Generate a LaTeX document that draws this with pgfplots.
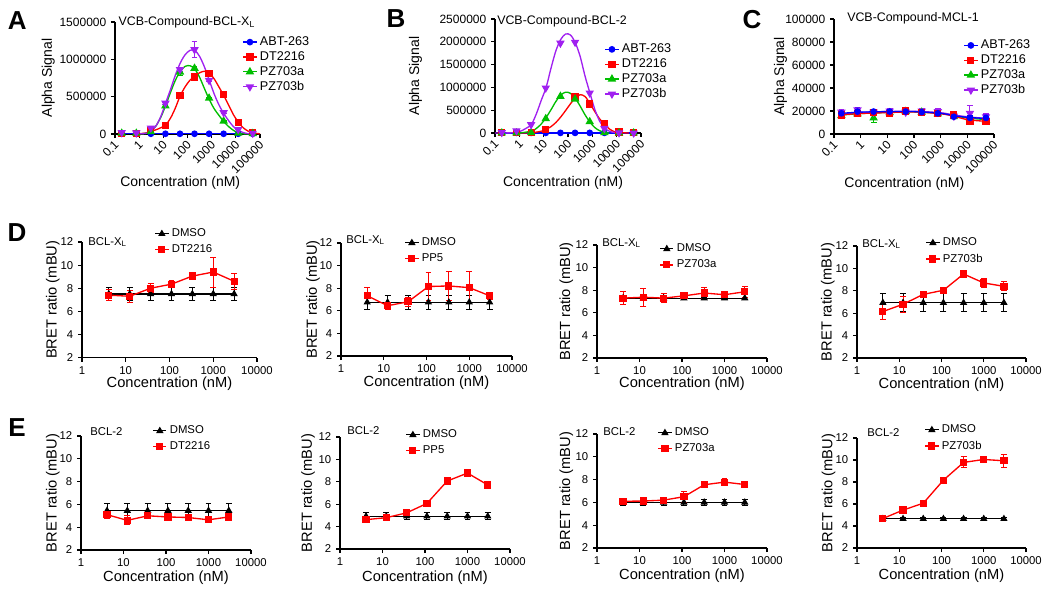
\documentclass[border=0pt]{standalone}
\usepackage{fontspec}
\setmainfont{Liberation Sans}
\usepackage{pgfplots}
\pgfplotsset{compat=1.18}
\definecolor{cblue}{RGB}{0,0,255}
\definecolor{cred}{RGB}{255,0,0}
\definecolor{cgreen}{RGB}{0,190,0}
\definecolor{cpurple}{RGB}{160,32,240}
\pgfplotsset{
  every axis/.append style={
    scale only axis,
    anchor=south west,
    axis lines*=left,
    axis line style={line width=0.9pt},
    tick align=outside,
    major tick length=3pt,
    major tick style={line width=0.9pt, black},
    xminorticks=false, yminorticks=false,
    scaled y ticks=false, scaled x ticks=false,
    clip=false,
    legend cell align=left,
    xlabel style={anchor=center},
    ylabel style={anchor=center},
  },
  error bars/error bar style={line width=0.7pt},
  error bars/error mark options={rotate=90, mark size=2.2pt, line width=0.7pt},
}
\tikzset{
  sABT/.style={cblue, mark=*, mark size=2pt, line width=1pt},
  sDT/.style={cred, mark=square*, mark size=2.2pt, line width=1pt},
  sPZa/.style={cgreen, mark=triangle*, mark size=2.7pt, line width=1pt},
  sPZb/.style={cpurple, mark=triangle*, mark options={rotate=180}, mark size=2.7pt, line width=1pt},
  dmso/.style={black, mark=triangle*, mark size=2.4pt, line width=0.8pt},
  trt/.style={cred, mark=square*, mark size=2.2pt, line width=1pt},
  lab/.style={anchor=west, inner sep=0pt, font=\fontsize{8.5}{10}\selectfont},
  ttl/.style={anchor=west, inner sep=0pt, font=\fontsize{9.3}{11}\selectfont},
  toplegend/.style={draw=none, fill=none, font=\fontsize{9.5}{11}\selectfont, anchor=north west,
      row sep=-1pt, inner xsep=0pt, inner ysep=0pt},
  lowlegend/.style={draw=none, fill=none, font=\fontsize{8.5}{10}\selectfont, anchor=north west,
      row sep=0.5pt, inner xsep=0pt, inner ysep=0pt},
  toptick/.style={font=\fontsize{9}{10}\selectfont},
  lowtick/.style={font=\fontsize{8.5}{10}\selectfont},
  toplab/.style={font=\fontsize{10.5}{12}\selectfont},
  lowlab/.style={font=\fontsize{11}{13}\selectfont},
}
\begin{document}
\begin{tikzpicture}
\useasboundingbox (0,0) rectangle (787.5pt,-445.5pt);
\begin{scope}[every node/.style={font=\fontsize{19.5}{20}\selectfont\bfseries, inner sep=0pt}]
\node at (13pt,-15.75pt) {A};
\node at (297pt,-14.25pt) {B};
\node at (564pt,-15pt) {C};
\node at (12.75pt,-174.75pt) {D};
\node at (12.75pt,-321pt) {E};
\end{scope}

%%%%%%%%%%%%%%%% A
\begin{axis}[at={(86.25pt,-100.5pt)}, width=108.75pt, height=84pt,
  xmode=log, xmin=0.1, xmax=100000,
  xtick={0.1,1,10,100,1000,10000,100000},
  xticklabels={0.1,1,10,100,1000,10000,100000},
  xticklabel style={toptick, xshift=2pt, yshift=-3pt, rotate=45, anchor=east, inner sep=1pt},
  ymin=0, ymax=1500000, ytick={0,500000,1000000,1500000},
  yticklabels={0,500000,1000000,1500000},
  yticklabel style={toptick},
  ylabel={Alpha Signal}, xlabel={Concentration (nM)},
  label style={toplab},
  legend image code/.code={\draw[mark repeat=2,mark phase=2,#1] plot coordinates {(0pt,0pt) (5pt,0pt) (10pt,0pt)};},
  legend style={toplegend, at={(axis description cs:0.878,0.895)}},
  ylabel style={at={(axis description cs:-0.46,0.5)}},
  xlabel style={at={(axis description cs:0.45,-0.44)}}]
\addlegendimage{sABT}\addlegendentry{ABT-263}
\addlegendimage{sDT}\addlegendentry{DT2216}
\addlegendimage{sPZa}\addlegendentry{PZ703a}
\addlegendimage{sPZb}\addlegendentry{PZ703b}
\addplot[cblue, no marks, line width=1pt, forget plot] table {
0.19 3000
50000 3000
};
\addplot[cred, smooth, no marks, line width=1pt, forget plot] table {
1 3000
2 15000
3.16 35000
6.3 70000
12.3 120000
20 215000
31.6 350000
49 505000
79 630000
126 720000
195 770000
316 820000
500 840000
776 820000
1260 740000
2000 630000
3100 520000
5000 390000
7900 260000
12600 160000
20000 85000
31600 40000
50000 15000
100000 3000
};
\addplot[cgreen, smooth, no marks, line width=1pt, forget plot] table {
1 2000
2 10000
3.16 40000
5 110000
8 230000
12.3 377000
20 560000
31.6 720000
50 840000
79 905000
126 915000
200 870000
316 760000
500 610000
776 470000
1260 340000
2000 250000
3100 170000
5000 100000
7900 50000
12600 15000
20000 3000
50000 0
};
\addplot[cpurple, smooth, no marks, line width=1pt, forget plot] table {
1 2000
2 10000
3.16 40000
5 110000
8 240000
12.3 410000
20 600000
31.6 790000
50 950000
79 1060000
126 1120000
200 1120000
316 1040000
500 900000
776 730000
1260 540000
2000 390000
3100 280000
5000 180000
7900 100000
12600 50000
20000 20000
31600 5000
50000 0
};
\addplot[sABT, only marks, forget plot] table {
0.19 3000
0.76 3000
3.05 3000
12.2 3000
48.8 3000
195 3000
781 3000
3125 3000
12500 3000
50000 3000
};
\addplot[sDT, only marks, forget plot, error bars/.cd, y dir=both, y explicit] table[x index=0, y index=1, y error index=2] {
0.19 10000 0
0.76 10000 0
3.05 50000 0
12.2 113000 10000
48.8 513000 20000
195 763000 20000
781 809000 15000
3125 527000 30000
12500 150000 10000
50000 20000 0
};
\addplot[sPZa, only marks, forget plot, error bars/.cd, y dir=both, y explicit] table[x index=0, y index=1, y error index=2] {
0.19 10000 0
0.76 10000 0
3.05 30000 0
12.2 377000 15000
48.8 830000 40000
195 880000 30000
781 480000 10000
3125 173000 10000
12500 10000 0
50000 5000 0
};
\addplot[sPZb, only marks, forget plot, error bars/.cd, y dir=both, y explicit] table[x index=0, y index=1, y error index=2] {
0.19 20000 0
0.76 15000 0
3.05 80000 0
12.2 413000 15000
48.8 863000 20000
195 1130000 110000
781 718000 20000
3125 286000 15000
12500 60000 0
50000 10000 0
};
\node[ttl, xshift=2.5pt] at (rel axis cs:0,1) {VCB-Compound-BCL-X\textsubscript{L}};
\end{axis}

%%%%%%%%%%%%%%%% B
\begin{axis}[at={(371.25pt,-99.75pt)}, width=109.5pt, height=85.5pt,
  xmode=log, xmin=0.1, xmax=100000,
  xtick={0.1,1,10,100,1000,10000,100000},
  xticklabels={0.1,1,10,100,1000,10000,100000},
  xticklabel style={toptick, xshift=2pt, yshift=-3pt, rotate=45, anchor=east, inner sep=1pt},
  ymin=0, ymax=2500000, ytick={0,500000,1000000,1500000,2000000,2500000},
  yticklabels={0,500000,1000000,1500000,2000000,2500000},
  yticklabel style={toptick},
  ylabel={Alpha Signal}, xlabel={Concentration (nM)},
  label style={toplab},
  legend image code/.code={\draw[mark repeat=2,mark phase=2,#1] plot coordinates {(0pt,0pt) (5pt,0pt) (10pt,0pt)};},
  legend style={toplegend, at={(axis description cs:0.749,0.807)}},
  ylabel style={at={(axis description cs:-0.545,0.5)}},
  xlabel style={at={(axis description cs:0.466,-0.44)}}]
\addlegendimage{sABT}\addlegendentry{ABT-263}
\addlegendimage{sDT}\addlegendentry{DT2216}
\addlegendimage{sPZa}\addlegendentry{PZ703a}
\addlegendimage{sPZb}\addlegendentry{PZ703b}
\addplot[cblue, no marks, line width=1pt, forget plot] table {
0.19 3000
50000 3000
};
\addplot[cred, smooth, no marks, line width=1pt, forget plot] table {
1 0
3.16 5000
8 40000
12.6 80000
20 140000
31.6 230000
50 350000
79 490000
126 640000
200 770000
316 840000
500 800000
794 650000
1260 470000
2000 310000
3160 190000
5000 90000
7940 30000
12600 10000
31600 0
};
\addplot[cgreen, smooth, no marks, line width=1pt, forget plot] table {
1 0
3.16 40000
5 100000
8 200000
12.6 340000
20 510000
31.6 690000
50 830000
79 895000
126 870000
200 760000
316 590000
500 400000
794 240000
1260 120000
2000 50000
3160 15000
5000 0
};
\addplot[cpurple, smooth, no marks, line width=1pt, forget plot] table {
0.1 0
0.5 5000
1 30000
2 110000
3.16 190000
5 420000
8 720000
12.6 1000000
20 1420000
31.6 1800000
50 2050000
79 2170000
126 2150000
200 1980000
316 1680000
500 1250000
794 880000
1260 520000
2000 260000
3160 110000
5000 40000
7940 10000
15800 0
};
\addplot[sABT, only marks, forget plot] table {
0.19 3000
0.76 3000
3.05 3000
12.2 3000
48.8 3000
195 3000
781 3000
3125 3000
12500 3000
50000 3000
};
\addplot[sDT, only marks, forget plot] table {
0.19 5000
0.76 5000
3.05 5000
12.2 73000
195 790000
781 636000
3125 197000
12500 20000
50000 5000
};
\addplot[sPZa, only marks, forget plot] table {
0.19 0
0.76 0
3.05 5000
12.2 314000
48.8 804000
195 745000
781 248000
3125 10000
12500 0
50000 0
};
\addplot[sPZb, only marks, forget plot] table {
0.19 10000
0.76 50000
3.05 183000
12.2 987000
48.8 1970000
195 1990000
781 877000
3125 100000
12500 5000
50000 0
};
\node[ttl, xshift=1.5pt, yshift=-1.5pt] at (rel axis cs:0,1) {VCB-Compound-BCL-2};
\end{axis}

%%%%%%%%%%%%%%%% C
\begin{axis}[at={(625.5pt,-100.5pt)}, width=120pt, height=86.25pt,
  xmode=log, xmin=0.1, xmax=100000,
  xtick={0.1,1,10,100,1000,10000,100000},
  xticklabels={0.1,1,10,100,1000,10000,100000},
  xticklabel style={toptick, xshift=2pt, yshift=-3pt, rotate=45, anchor=east, inner sep=1pt},
  ymin=0, ymax=100000, ytick={0,20000,40000,60000,80000,100000},
  yticklabels={0,20000,40000,60000,80000,100000},
  yticklabel style={toptick},
  ylabel={Alpha Signal}, xlabel={Concentration (nM)},
  label style={toplab},
  legend image code/.code={\draw[mark repeat=2,mark phase=2,#1] plot coordinates {(0pt,0pt) (5pt,0pt) (10pt,0pt)};},
  legend style={toplegend, at={(axis description cs:0.808,0.843)}},
  ylabel style={at={(axis description cs:-0.335,0.5)}},
  xlabel style={at={(axis description cs:0.44,-0.43)}}]
\addlegendimage{sABT}\addlegendentry{ABT-263}
\addlegendimage{sDT}\addlegendentry{DT2216}
\addlegendimage{sPZa}\addlegendentry{PZ703a}
\addlegendimage{sPZb}\addlegendentry{PZ703b}
\addplot[cgreen, smooth, no marks, line width=1pt, forget plot] table {
0.19 16500
1 17800
10 18800
100 19300
1000 18000
3125 16000
10000 14000
50000 12500
};
\addplot[cpurple, smooth, no marks, line width=1pt, forget plot] table {
0.19 17500
1 18800
10 19500
100 19800
1000 18500
3125 16500
10000 15000
50000 13500
};
\addplot[cred, smooth, no marks, line width=1pt, forget plot] table {
0.19 16800
1 17800
10 18600
100 19200
1000 17600
3125 15500
10000 12500
50000 11000
};
\addplot[cblue, smooth, no marks, line width=1pt, forget plot] table {
0.19 18000
1 19000
10 19500
100 19500
1000 18000
3125 16000
10000 14500
50000 13500
};
\addplot[sPZa, only marks, forget plot, error bars/.cd, y dir=both, y explicit] table[x index=0, y index=1, y error index=2] {
0.19 16000 1000
0.76 17500 1000
3.05 14000 4000
12.2 18500 1000
48.8 19500 1000
195 19000 1000
781 17500 1000
3125 15000 1000
12500 13500 2000
50000 12000 2000
};
\addplot[sPZb, only marks, forget plot, error bars/.cd, y dir=both, y explicit] table[x index=0, y index=1, y error index=2] {
0.19 19000 2000
0.76 21000 2000
3.05 19000 2000
12.2 20000 2000
48.8 19000 1500
195 20000 2500
781 19500 2500
3125 15500 1500
12500 18000 7000
50000 15000 2500
};
\addplot[sDT, only marks, forget plot, error bars/.cd, y dir=both, y explicit] table[x index=0, y index=1, y error index=2] {
0.19 16500 1000
0.76 17500 1000
3.05 18500 1000
12.2 18000 1500
48.8 20000 1000
195 18500 1500
781 17500 1500
3125 16500 1000
12500 11000 1500
50000 11000 1500
};
\addplot[sABT, only marks, forget plot, error bars/.cd, y dir=both, y explicit] table[x index=0, y index=1, y error index=2] {
0.19 18000 1500
0.76 19500 3500
3.05 19500 1500
12.2 19500 1500
48.8 19500 1000
195 19000 2000
781 18000 2000
3125 15000 1000
12500 14000 2000
50000 14000 3000
};
\node[ttl, xshift=9.75pt, yshift=0.75pt] at (rel axis cs:0,1) {VCB-Compound-MCL-1};
\end{axis}

%%%%%%%%%%%%%%%% D1
\begin{axis}[at={(61.5pt,-268.125pt)}, width=131.25pt, height=86.625pt,
  xmode=log, xmin=1, xmax=10000, xtick={1,10,100,1000,10000}, xticklabels={1,10,100,1000,10000},
  ymin=2, ymax=12, ytick={2,4,6,8,10,12}, yticklabels={2,4,6,8,10,12},
  ticklabel style={lowtick}, ylabel={BRET ratio (mBU)}, xlabel={Concentration (nM)}, label style={lowlab},
  legend image code/.code={\draw[mark repeat=2,mark phase=2,#1] plot coordinates {(0pt,0pt) (5pt,0pt) (10pt,0pt)};},
  legend style={lowlegend, at={(axis description cs:0.413,1.139)}},
  ylabel style={at={(axis description cs:-0.166,0.5)}},
  xlabel style={at={(axis description cs:0.5,-0.229)}}]
\addlegendimage{dmso}\addlegendentry{DMSO}
\addlegendimage{trt}\addlegendentry{DT2216}
\addplot[dmso, forget plot, error bars/.cd, y dir=both, y explicit] table[x index=0, y index=1, y error index=2] {
4.1 7.5 0.6
12.3 7.5 0.6
37 7.5 0.6
111 7.5 0.6
333 7.5 0.6
1000 7.5 0.6
3000 7.5 0.6
};
\addplot[trt, forget plot, error bars/.cd, y dir=both, y explicit] table[x index=0, y index=1, y error index=2] {
4.1 7.4 0.5
12.3 7.3 0.5
37 8.0 0.4
111 8.35 0.3
333 9.05 0.2
1000 9.4 1.3
3000 8.6 0.7
};
\node[lab, xshift=4.5pt] at (rel axis cs:0,1) {BCL-X\textsubscript{L}};
\end{axis}

%%%%%%%%%%%%%%%% D2
\begin{axis}[at={(255.75pt,-267pt)}, width=128.25pt, height=84.75pt,
  xmode=log, xmin=1, xmax=10000, xtick={1,10,100,1000,10000}, xticklabels={1,10,100,1000,10000},
  ymin=2, ymax=12, ytick={2,4,6,8,10,12}, yticklabels={2,4,6,8,10,12},
  ticklabel style={lowtick}, ylabel={BRET ratio (mBU)}, xlabel={Concentration (nM)}, label style={lowlab},
  legend image code/.code={\draw[mark repeat=2,mark phase=2,#1] plot coordinates {(0pt,0pt) (5pt,0pt) (10pt,0pt)};},
  legend style={lowlegend, at={(axis description cs:0.370,1.071)}},
  ylabel style={at={(axis description cs:-0.164,0.5)}},
  xlabel style={at={(axis description cs:0.5,-0.24)}}]
\addlegendimage{dmso}\addlegendentry{DMSO}
\addlegendimage{trt}\addlegendentry{PP5}
\addplot[dmso, forget plot, error bars/.cd, y dir=both, y explicit] table[x index=0, y index=1, y error index=2] {
4.1 6.75 0.6
12.3 6.75 0.6
37 6.75 0.6
111 6.75 0.6
333 6.75 0.6
1000 6.75 0.6
3000 6.75 0.6
};
\addplot[trt, forget plot, error bars/.cd, y dir=both, y explicit] table[x index=0, y index=1, y error index=2] {
4.1 7.33 0.7
12.3 6.45 0.3
37 6.8 0.4
111 8.15 1.2
333 8.2 1.3
1000 8.05 1.4
3000 7.33 0.3
};
\node[lab, xshift=3.75pt, yshift=2.25pt] at (rel axis cs:0,1) {BCL-X\textsubscript{L}};
\end{axis}

%%%%%%%%%%%%%%%% D3
\begin{axis}[at={(447.75pt,-268.5pt)}, width=127.5pt, height=84.75pt,
  xmode=log, xmin=1, xmax=10000, xtick={1,10,100,1000,10000}, xticklabels={1,10,100,1000,10000},
  ymin=2, ymax=12, ytick={2,4,6,8,10,12}, yticklabels={2,4,6,8,10,12},
  ticklabel style={lowtick}, ylabel={BRET ratio (mBU)}, xlabel={Concentration (nM)}, label style={lowlab},
  legend image code/.code={\draw[mark repeat=2,mark phase=2,#1] plot coordinates {(0pt,0pt) (5pt,0pt) (10pt,0pt)};},
  legend style={lowlegend, at={(axis description cs:0.366,1.035)}},
  ylabel style={at={(axis description cs:-0.18,0.5)}},
  xlabel style={at={(axis description cs:0.5,-0.23)}}]
\addlegendimage{dmso}\addlegendentry{DMSO}
\addlegendimage{trt}\addlegendentry{PZ703a}
\addplot[dmso, forget plot, error bars/.cd, y dir=both, y explicit] table[x index=0, y index=1, y error index=2] {
4.1 7.3 0.1
12.3 7.3 0.1
37 7.3 0.1
111 7.3 0.1
333 7.3 0.1
1000 7.3 0.1
3000 7.3 0.1
};
\addplot[trt, forget plot, error bars/.cd, y dir=both, y explicit] table[x index=0, y index=1, y error index=2] {
4.1 7.3 0.6
12.3 7.38 0.8
37 7.3 0.4
111 7.5 0.2
333 7.75 0.5
1000 7.6 0.2
3000 7.86 0.5
};
\node[lab, xshift=3.75pt, yshift=1.5pt] at (rel axis cs:0,1) {BCL-X\textsubscript{L}};
\end{axis}

%%%%%%%%%%%%%%%% D4
\begin{axis}[at={(642.75pt,-268.5pt)}, width=126.75pt, height=84pt,
  xmode=log, xmin=1, xmax=10000, xtick={1,10,100,1000,10000}, xticklabels={1,10,100,1000,10000},
  ymin=2, ymax=12, ytick={2,4,6,8,10,12}, yticklabels={2,4,6,8,10,12},
  ticklabel style={lowtick}, ylabel={BRET ratio (mBU)}, xlabel={Concentration (nM)}, label style={lowlab},
  legend image code/.code={\draw[mark repeat=2,mark phase=2,#1] plot coordinates {(0pt,0pt) (5pt,0pt) (10pt,0pt)};},
  legend style={lowlegend, at={(axis description cs:0.404,1.098)}},
  ylabel style={at={(axis description cs:-0.172,0.5)}},
  xlabel style={at={(axis description cs:0.5,-0.235)}}]
\addlegendimage{dmso}\addlegendentry{DMSO}
\addlegendimage{trt}\addlegendentry{PZ703b}
\addplot[dmso, forget plot, error bars/.cd, y dir=both, y explicit] table[x index=0, y index=1, y error index=2] {
4.1 6.93 0.8
12.3 6.93 0.8
37 6.93 0.8
111 6.93 0.8
333 6.93 0.8
1000 6.93 0.8
3000 6.93 0.8
};
\addplot[trt, forget plot, error bars/.cd, y dir=both, y explicit] table[x index=0, y index=1, y error index=2] {
4.1 6.15 0.7
12.3 6.8 0.7
37 7.68 0.3
111 8.05 0.2
333 9.5 0.15
1000 8.7 0.4
3000 8.4 0.4
};
\node[lab, xshift=3.75pt, yshift=1.5pt] at (rel axis cs:0,1) {BCL-X\textsubscript{L}};
\end{axis}

%%%%%%%%%%%%%%%% E1
\begin{axis}[at={(60.75pt,-412.5pt)}, width=127.5pt, height=85.5pt,
  xmode=log, xmin=1, xmax=10000, xtick={1,10,100,1000,10000}, xticklabels={1,10,100,1000,10000},
  ymin=2, ymax=12, ytick={2,4,6,8,10,12}, yticklabels={2,4,6,8,10,12},
  ticklabel style={lowtick}, ylabel={BRET ratio (mBU)}, xlabel={Concentration (nM)}, label style={lowlab},
  legend image code/.code={\draw[mark repeat=2,mark phase=2,#1] plot coordinates {(0pt,0pt) (5pt,0pt) (10pt,0pt)};},
  legend style={lowlegend, at={(axis description cs:0.419,1.114)}},
  ylabel style={at={(axis description cs:-0.165,0.5)}},
  xlabel style={at={(axis description cs:0.5,-0.246)}}]
\addlegendimage{dmso}\addlegendentry{DMSO}
\addlegendimage{trt}\addlegendentry{DT2216}
\addplot[dmso, forget plot, error bars/.cd, y dir=both, y explicit] table[x index=0, y index=1, y error index=2] {
4.1 5.45 0.6
12.3 5.45 0.6
37 5.45 0.6
111 5.45 0.6
333 5.45 0.6
1000 5.45 0.6
3000 5.45 0.6
};
\addplot[trt, forget plot, error bars/.cd, y dir=both, y explicit] table[x index=0, y index=1, y error index=2] {
4.1 5.1 0.3
12.3 4.6 0.4
37 5.0 0.2
111 4.9 0.3
333 4.85 0.3
1000 4.65 0.2
3000 4.9 0.2
};
\node[lab, xshift=6.75pt, yshift=3pt] at (rel axis cs:0,1) {BCL-2};
\end{axis}

%%%%%%%%%%%%%%%% E2
\begin{axis}[at={(255pt,-411.75pt)}, width=127.5pt, height=84pt,
  xmode=log, xmin=1, xmax=10000, xtick={1,10,100,1000,10000}, xticklabels={1,10,100,1000,10000},
  ymin=2, ymax=12, ytick={2,4,6,8,10,12}, yticklabels={2,4,6,8,10,12},
  ticklabel style={lowtick}, ylabel={BRET ratio (mBU)}, xlabel={Concentration (nM)}, label style={lowlab},
  legend image code/.code={\draw[mark repeat=2,mark phase=2,#1] plot coordinates {(0pt,0pt) (5pt,0pt) (10pt,0pt)};},
  legend style={lowlegend, at={(axis description cs:0.384,1.089)}},
  ylabel style={at={(axis description cs:-0.188,0.5)}},
  xlabel style={at={(axis description cs:0.5,-0.26)}}]
\addlegendimage{dmso}\addlegendentry{DMSO}
\addlegendimage{trt}\addlegendentry{PP5}
\addplot[dmso, forget plot, error bars/.cd, y dir=both, y explicit] table[x index=0, y index=1, y error index=2] {
4.1 4.92 0.3
12.3 4.92 0.3
37 4.92 0.3
111 4.92 0.3
333 4.92 0.3
1000 4.92 0.3
3000 4.92 0.3
};
\addplot[trt, forget plot, error bars/.cd, y dir=both, y explicit] table[x index=0, y index=1, y error index=2] {
4.1 4.62 0.15
12.3 4.8 0.1
37 5.23 0.15
111 6.07 0.1
333 8.07 0.2
1000 8.78 0.2
3000 7.72 0.15
};
\node[lab, xshift=5.25pt, yshift=4.5pt] at (rel axis cs:0,1) {BCL-2};
\end{axis}

%%%%%%%%%%%%%%%% E3
\begin{axis}[at={(447.75pt,-411pt)}, width=127.5pt, height=85.5pt,
  xmode=log, xmin=1, xmax=10000, xtick={1,10,100,1000,10000}, xticklabels={1,10,100,1000,10000},
  ymin=2, ymax=12, ytick={2,4,6,8,10,12}, yticklabels={2,4,6,8,10,12},
  ticklabel style={lowtick}, ylabel={BRET ratio (mBU)}, xlabel={Concentration (nM)}, label style={lowlab},
  legend image code/.code={\draw[mark repeat=2,mark phase=2,#1] plot coordinates {(0pt,0pt) (5pt,0pt) (10pt,0pt)};},
  legend style={lowlegend, at={(axis description cs:0.355,1.079)}},
  ylabel style={at={(axis description cs:-0.18,0.5)}},
  xlabel style={at={(axis description cs:0.5,-0.246)}}]
\addlegendimage{dmso}\addlegendentry{DMSO}
\addlegendimage{trt}\addlegendentry{PZ703a}
\addplot[dmso, forget plot, error bars/.cd, y dir=both, y explicit] table[x index=0, y index=1, y error index=2] {
4.1 6.0 0.3
12.3 6.0 0.3
37 6.0 0.3
111 6.0 0.3
333 6.0 0.3
1000 6.0 0.3
3000 6.0 0.3
};
\addplot[trt, forget plot, error bars/.cd, y dir=both, y explicit] table[x index=0, y index=1, y error index=2] {
4.1 6.1 0.2
12.3 6.12 0.2
37 6.2 0.2
111 6.5 0.5
333 7.55 0.15
1000 7.78 0.3
3000 7.57 0.1
};
\node[lab, xshift=4.5pt, yshift=1.5pt] at (rel axis cs:0,1) {BCL-2};
\end{axis}

%%%%%%%%%%%%%%%% E4
\begin{axis}[at={(642.75pt,-411pt)}, width=126.75pt, height=82.5pt,
  xmode=log, xmin=1, xmax=10000, xtick={1,10,100,1000,10000}, xticklabels={1,10,100,1000,10000},
  ymin=2, ymax=12, ytick={2,4,6,8,10,12}, yticklabels={2,4,6,8,10,12},
  ticklabel style={lowtick}, ylabel={BRET ratio (mBU)}, xlabel={Concentration (nM)}, label style={lowlab},
  legend image code/.code={\draw[mark repeat=2,mark phase=2,#1] plot coordinates {(0pt,0pt) (5pt,0pt) (10pt,0pt)};},
  legend style={lowlegend, at={(axis description cs:0.398,1.145)}},
  ylabel style={at={(axis description cs:-0.168,0.5)}},
  xlabel style={at={(axis description cs:0.5,-0.255)}}]
\addlegendimage{dmso}\addlegendentry{DMSO}
\addlegendimage{trt}\addlegendentry{PZ703b}
\addplot[dmso, forget plot, error bars/.cd, y dir=both, y explicit] table[x index=0, y index=1, y error index=2] {
4.1 4.65 0.15
12.3 4.65 0.15
37 4.65 0.15
111 4.65 0.15
333 4.65 0.15
1000 4.65 0.15
3000 4.65 0.15
};
\addplot[trt, forget plot, error bars/.cd, y dir=both, y explicit] table[x index=0, y index=1, y error index=2] {
4.1 4.68 0.2
12.3 5.45 0.2
37 6.07 0.1
111 8.17 0.2
333 9.78 0.5
1000 10.05 0.1
3000 9.93 0.6
};
\node[lab, xshift=7.5pt, yshift=3.75pt] at (rel axis cs:0,1) {BCL-2};
\end{axis}
\end{tikzpicture}
\end{document}
